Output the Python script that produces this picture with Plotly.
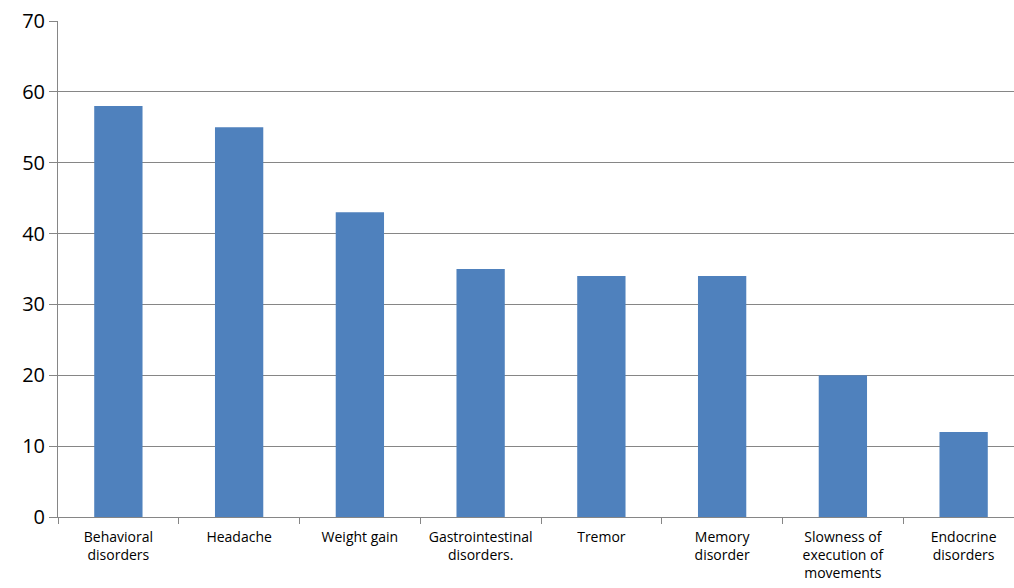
import plotly.graph_objects as go

categories = ["Behavioral<br>disorders", "Headache", "Weight gain", "Gastrointestinal<br>disorders.",
              "Tremor", "Memory<br>disorder", "Slowness of<br>execution of<br>movements", "Endocrine<br>disorders"]
values = [58, 55, 43, 35, 34, 34, 20, 12]
y_ticks = [0, 10, 20, 30, 40, 50, 60, 70]

fig = go.Figure(go.Bar(x=categories, y=values, marker=dict(color="#4F81BD", line=dict(width=0)), width=0.4))

# the reference plot area runs slightly past the right edge of the picture
fig.update_layout(
    width=1024, height=588,
    margin=dict(l=58, r=0, t=21, b=71, autoexpand=False),
    plot_bgcolor="white", paper_bgcolor="white",
    showlegend=False,
    font=dict(family="Open Sans, Liberation Sans, sans-serif", color="#000000"),
)
fig.update_xaxes(
    automargin=False,
    showline=True, linecolor="#868686", linewidth=1,
    ticks="outside", tickson="boundaries", ticklen=6, tickcolor="#868686",
    tickfont=dict(size=14), showgrid=False, ticklabelstandoff=7,
)
fig.update_yaxes(
    automargin=False,
    range=[0, 70], tickvals=y_ticks, showline=True, linecolor="#868686", linewidth=1,
    ticks="outside", ticklen=8, tickcolor="#868686",
    showgrid=True, gridcolor="#868686", gridwidth=1, zeroline=False,
    tickfont=dict(size=20), ticklabelstandoff=0,
)
fig.write_html("out.html", config={"displayModeBar": False},
               post_script="document.body.style.margin='0';document.body.style.overflow='hidden';")
